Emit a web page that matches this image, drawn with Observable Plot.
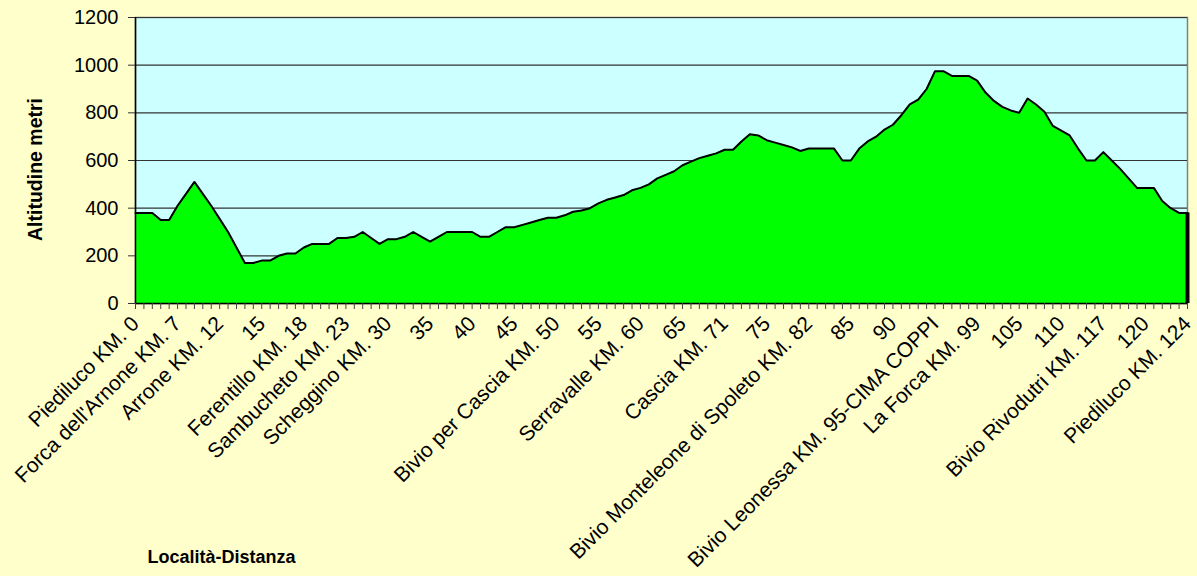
<!DOCTYPE html>
<html>
<head>
<meta charset="utf-8">
<script src="https://cdn.jsdelivr.net/npm/d3@7"></script>
<script src="https://cdn.jsdelivr.net/npm/@observablehq/plot@0.6"></script>
<style>
  html, body { margin: 0; padding: 0; background: #FFFFCC; }
  #chart { width: 1197px; height: 576px; }
</style>
</head>
<body>
<div id="chart"></div>
<script>
// Altitude (m) at each category point (126 points)
const altitudes = [
  380,380,380,350,350,410,460,510,460,410,
  355,300,235,170,170,180,180,200,210,210,
  235,250,250,250,275,275,280,300,275,250,
  270,270,280,300,280,260,280,300,300,300,
  300,280,280,300,320,320,330,340,350,360,
  360,370,385,390,400,420,435,445,455,475,
  485,500,525,540,555,580,595,610,620,630,
  645,645,680,710,705,685,675,665,655,640,
  650,650,650,650,600,600,650,680,700,730,
  750,790,835,855,900,975,975,955,955,955,
  935,885,850,825,810,800,860,835,805,745,
  725,705,650,600,600,635,600,565,525,485,
  485,485,430,400,380,380
];
// Category labels shown on the axis (every 5th category)
const tickLabels = [
  "Piediluco KM. 0", "Forca dell'Arnone KM. 7", "Arrone KM. 12", "15",
  "Ferentillo KM. 18", "Sambucheto KM. 23", "Scheggino KM. 30", "35", "40", "45",
  "Bivio per Cascia KM. 50", "55", "Serravalle KM. 60", "65", "Cascia KM. 71", "75",
  "Bivio Monteleone di Spoleto KM. 82", "85", "90", "Bivio Leonessa KM. 95-CIMA COPPI",
  "La Forca KM. 99", "105", "110", "Bivio Rivodutri KM. 117", "120", "Piediluco KM. 124"
];
const labelStep = 5;
const yTicks = [0, 200, 400, 600, 800, 1000, 1200];
const yTitle = "Altitudine metri";
const xTitle = "Località-Distanza";

const data = altitudes.map((alt, i) => ({i, alt}));
const lastIdx = altitudes.length - 1;
const labelIdx = tickLabels.map((_, k) => k * labelStep);

const font = "'Liberation Sans', Arial, sans-serif";

const chart = Plot.plot({
  width: 1197,
  height: 576,
  marginLeft: 135,
  marginRight: 10,
  marginTop: 17,
  marginBottom: 273,
  style: {background: "#FFFFCC", fontFamily: font, color: "#000"},
  x: {domain: [0, lastIdx], axis: null},
  y: {domain: [0, 1200], axis: null},
  marks: [
    Plot.frame({fill: "#CCFFFF", stroke: "#808080", strokeWidth: 1.5}),
    Plot.gridY(yTicks.slice(1), {stroke: "#333", strokeOpacity: 1, strokeWidth: 1.2}),
    Plot.areaY(data, {x: "i", y: "alt", fill: "#00FF00"}),
    Plot.lineY(data, {x: "i", y: "alt", stroke: "#000", strokeWidth: 2}),
    Plot.ruleX([lastIdx], {y1: 0, y2: altitudes[lastIdx], stroke: "#000", strokeWidth: 4}),
    Plot.ruleX([0], {stroke: "#000", strokeWidth: 1.5}),
    Plot.ruleY([0], {stroke: "#000", strokeWidth: 1.5}),
    Plot.axisY(yTicks, {tickSize: 7, tickPadding: 10, fontSize: 20, stroke: "#333",
      tickFormat: d => String(d), label: null}),
    Plot.axisX(d3.range(0, lastIdx + 1), {tickSize: 6, stroke: "#444", tickFormat: () => "", label: null}),
    Plot.axisX(labelIdx, {
      tickSize: 0, tickRotate: -45, fontSize: 21, label: null,
      tickFormat: i => tickLabels[i / labelStep],
      textAnchor: "end", dx: 0, dy: 5
    }),
    Plot.text([yTitle], {frameAnchor: "left", rotate: -90, dx: -100, dy: 9, textAnchor: "middle",
      fontSize: 19.5, fontWeight: "bold", fill: "#000"}),
    Plot.text([xTitle], {frameAnchor: "bottom-left", dx: 12, dy: 259, textAnchor: "start",
      fontSize: 18, fontWeight: "bold", fill: "#000"})
  ]
});
document.getElementById("chart").appendChild(chart);
</script>
</body>
</html>
